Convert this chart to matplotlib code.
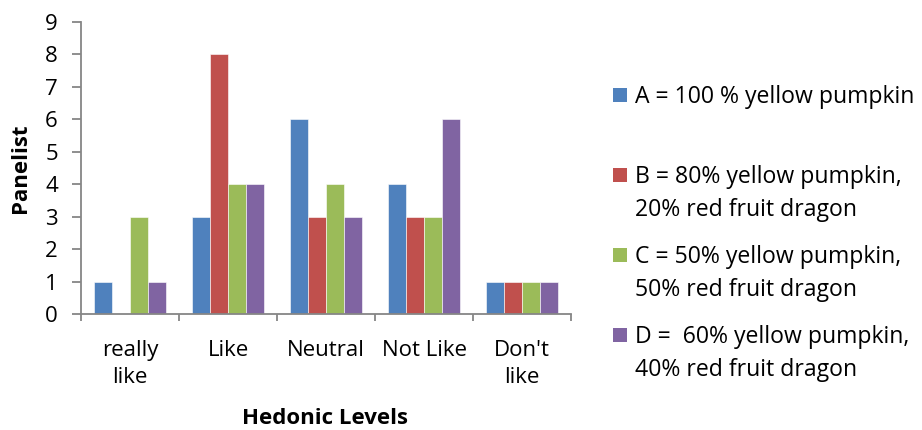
import matplotlib
matplotlib.use("Agg")
import matplotlib.pyplot as plt
from matplotlib.patches import Rectangle
import numpy as np

plt.rcParams['font.family'] = ['Open Sans', 'DejaVu Sans']

categories = ["really\nlike", "Like", "Neutral", "Not Like", "Don't\nlike"]
series_labels = [
    "A = 100 % yellow pumpkin",
    "B = 80% yellow pumpkin,\n20% red fruit dragon",
    "C = 50% yellow pumpkin,\n50% red fruit dragon",
    "D =  60% yellow pumpkin,\n40% red fruit dragon",
]
values_A = [1, 3, 6, 4, 1]
values_B = [0, 8, 3, 3, 1]
values_C = [3, 4, 4, 3, 1]
values_D = [1, 4, 3, 6, 1]
y_ticks = list(range(0, 10))

colors = ["#4F81BD", "#C0504D", "#9BBB59", "#8064A2"]
series = [values_A, values_B, values_C, values_D]

W, H = 922, 430
DPI = 100
PX = 72 / DPI  # points per pixel
fig = plt.figure(figsize=(W / DPI, H / DPI), dpi=DPI)
fig.patch.set_facecolor("white")

# plot area in pixel coordinates
x0, x1, ytop, ybot = 81, 571, 22, 314
ax = fig.add_axes([x0 / W, (H - ybot) / H, (x1 - x0) / W, (ybot - ytop) / H])

fs = 16
legend_fs = 16.6
bar_w = 18 / 98
x = np.arange(len(categories))
for j, (vals, col) in enumerate(zip(series, colors)):
    ax.bar(x + (j - 1.5) * bar_w, vals, width=bar_w, color=col,
           edgecolor="white", linewidth=0.4, zorder=2)

ax.set_xlim(-0.5, len(categories) - 0.5)
ax.set_ylim(0, 9)
ax.set_yticks(y_ticks)
ax.set_yticklabels([str(t) for t in y_ticks], fontsize=fs)
ax.set_xticks(np.arange(len(categories) + 1) - 0.5)
ax.set_xticklabels([])
ax.set_xticks(x, minor=True)
ax.set_xticklabels(categories, minor=True, fontsize=fs, linespacing=1.4)
ax.tick_params(axis="x", which="minor", length=0, pad=26 * PX)
ax.tick_params(axis="x", which="major", length=7 * PX, width=1.3, color="#868686",
               direction="out")
ax.tick_params(axis="y", length=9 * PX, width=1.3, color="#868686", direction="out",
               pad=14 * PX)

for s in ["top", "right"]:
    ax.spines[s].set_visible(False)
for s in ["left", "bottom"]:
    ax.spines[s].set_color("#868686")
    ax.spines[s].set_linewidth(1.3)

ax.set_ylabel("Panelist", fontsize=fs, fontweight="bold", labelpad=14 * PX)
fig.text(325 / W, 1 - 424 / H, "Hedonic Levels", fontsize=fs, fontweight="bold",
         ha="center", va="baseline")

# legend: square aligned with the first line of each entry
baselines = [103, 183, 263, 343]
line_step = 32.5
for lab, col, b in zip(series_labels, colors, baselines):
    fig.patches.append(Rectangle((613 / W, 1 - (b - 1) / H), 14 / W, 14 / H,
                                 transform=fig.transFigure, facecolor=col,
                                 edgecolor="none"))
    for k, line in enumerate(lab.split("\n")):
        fig.text(635 / W, 1 - (b + k * line_step) / H, line, fontsize=legend_fs,
                 ha="left", va="baseline")

fig.savefig("out.png", dpi=DPI)
